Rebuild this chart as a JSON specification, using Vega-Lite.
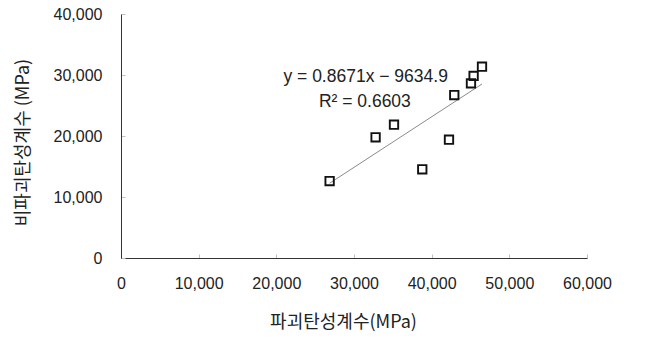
{
  "$schema": "https://vega.github.io/schema/vega-lite/v6.json",
  "width": 466,
  "height": 244,
  "autosize": "none",
  "padding": {"left": 121, "top": 14, "right": 65, "bottom": 80},
  "background": "white",
  "config": {
    "view": {"stroke": null},
    "font": "Liberation Sans",
    "axis": {
      "grid": false,
      "domainColor": "#333333",
      "domainWidth": 1,
      "tickColor": "#c0c0c0",
      "tickSize": -4,
      "labelFont": "Liberation Sans",
      "labelFontSize": 16,
      "labelColor": "#222222",
      "labelFlush": false,
      "labelOverlap": false,
      "titleFont": "Noto Sans CJK KR",
      "titleFontSize": 18,
      "titleFontWeight": "normal",
      "titleColor": "#222222"
    }
  },
  "data": {
    "values": [
      {"x": 26860, "y": 12620},
      {"x": 32780, "y": 19790},
      {"x": 35150, "y": 21850},
      {"x": 38790, "y": 14540},
      {"x": 42230, "y": 19390},
      {"x": 42910, "y": 26720},
      {"x": 45060, "y": 28640},
      {"x": 45400, "y": 29840},
      {"x": 46480, "y": 31360}
    ]
  },
  "encoding": {
    "x": {
      "field": "x",
      "type": "quantitative",
      "scale": {"domain": [0, 60000], "nice": false},
      "axis": {
        "values": [0, 10000, 20000, 30000, 40000, 50000, 60000],
        "labelExpr": "format(datum.value, ',d')",
        "labelPadding": 21,
        "title": "파괴탄성계수(MPa)",
        "titleX": 222,
        "titlePadding": 22
      }
    },
    "y": {
      "field": "y",
      "type": "quantitative",
      "scale": {"domain": [0, 40000], "nice": false},
      "axis": {
        "values": [0, 10000, 20000, 30000, 40000],
        "labelExpr": "format(datum.value, ',d')",
        "labelPadding": 23,
        "title": "비파괴탄성계수 (MPa)",
        "titleY": 128,
        "titlePadding": 21
      }
    }
  },
  "layer": [
    {
      "transform": [{"regression": "y", "on": "x"}],
      "mark": {"type": "line", "color": "#8a8a8a", "strokeWidth": 1}
    },
    {
      "mark": {"type": "point", "shape": "square", "filled": false, "color": "#111111", "size": 70, "strokeWidth": 1.9, "opacity": 1}
    },
    {
      "data": {"values": [
        {"label": "y = 0.8671x − 9634.9", "lx": 31500, "ly": 29700},
        {"label": "R² = 0.6603", "lx": 31400, "ly": 25600}
      ]},
      "mark": {"type": "text", "fontSize": 17.5, "color": "#222222", "font": "Liberation Sans", "align": "center", "baseline": "middle"},
      "encoding": {
        "x": {"field": "lx", "type": "quantitative"},
        "y": {"field": "ly", "type": "quantitative"},
        "text": {"field": "label"}
      }
    }
  ]
}
